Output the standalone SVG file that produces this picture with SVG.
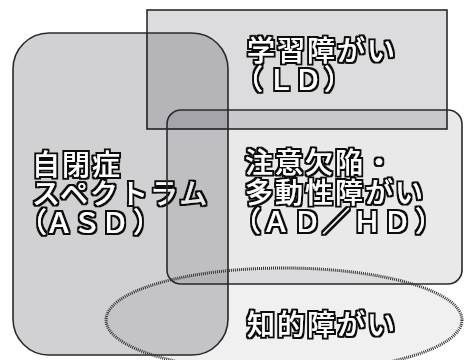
<svg xmlns="http://www.w3.org/2000/svg" width="464" height="360" viewBox="0 0 464 360">
<defs>
<filter id="outline" x="-10%" y="-30%" width="120%" height="160%">
<feMorphology in="SourceAlpha" operator="dilate" radius="1.7" result="d"/>
<feFlood flood-color="#111111" result="f"/>
<feComposite in="f" in2="d" operator="in" result="o"/>
<feMerge><feMergeNode in="o"/><feMergeNode in="SourceGraphic"/></feMerge>
</filter>
</defs>
<style>
.shape{fill:#000010;stroke:#2a2a2a;stroke-width:1.6px}
.lbl{font-family:"Noto Sans CJK JP","Noto Sans",sans-serif;font-weight:500;font-size:28px;letter-spacing:2px;fill:#ffffff}
.pl{letter-spacing:0px}
.txt{filter:url(#outline)}
</style>
<rect width="464" height="360" fill="#ffffff"/>
<g id="connectors"></g>
<g id="ld">
<rect class="shape" x="147" y="10" width="300" height="119" fill-opacity="0.137"/>
<g class="txt">
<text class="lbl" x="247" y="61">学習障がい</text>
<text class="lbl pl" x="235 267 294 324" y="90">（ＬＤ）</text>
</g>
</g>
<g id="asd">
<rect class="shape" x="13" y="33" width="215" height="322" rx="36" ry="36" fill-opacity="0.18"/>
<g class="txt">
<text class="lbl" x="32" y="175">自閉症</text>
<text class="lbl" x="32" y="204">スペクトラム</text>
<text class="lbl pl" x="19 45 73 101 133" y="233">（ＡＳＤ）</text>
</g>
</g>
<g id="adhd">
<rect class="shape" x="167" y="110" width="295" height="174" rx="14" ry="14" fill-opacity="0.086"/>
<g class="txt">
<text class="lbl" x="245" y="173">注意欠陥・</text>
<text class="lbl" x="245" y="203">多動性障がい</text>
<text class="lbl pl" x="233 262 293 322 353 383 415" y="232">（ＡＤ／ＨＤ）</text>
</g>
</g>
<g id="id">
<ellipse cx="284" cy="320" rx="178" ry="52" fill="#000010" fill-opacity="0.06" stroke="#333333" stroke-width="3" stroke-dasharray="1 1"/>
<g class="txt">
<text class="lbl" x="247" y="335">知的障がい</text>
</g>
</g>
</svg>
